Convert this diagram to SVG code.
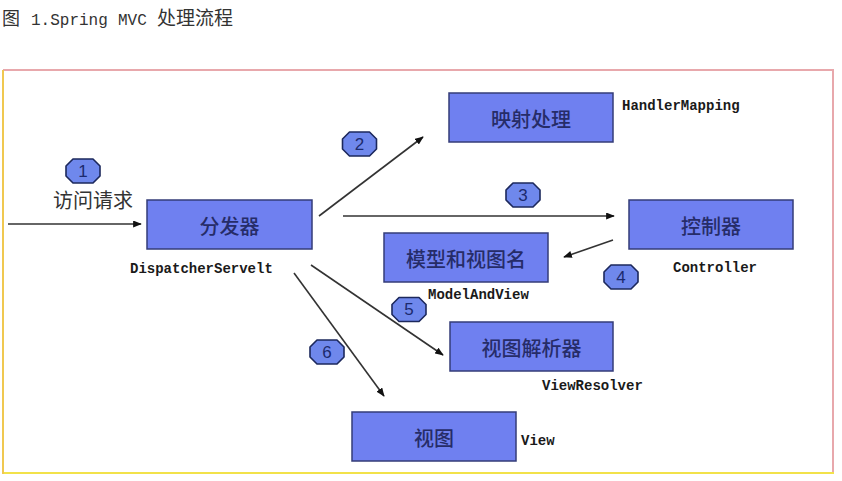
<svg xmlns="http://www.w3.org/2000/svg" xmlns:xlink="http://www.w3.org/1999/xlink" width="842" height="481" viewBox="0 0 842 481">
<style>
.box{fill:#6f80f0;stroke:#343c78;stroke-width:1.5}
.bt{font-family:"Noto Sans CJK SC","Noto Sans",sans-serif;font-size:20px;font-weight:500;fill:#262c68;text-anchor:middle;dominant-baseline:central}
.lbl{font-family:"Liberation Mono",monospace;font-size:14px;font-weight:bold;fill:#1a1a1a}
.badge{fill:#6f88ec;stroke:#1c285c;stroke-width:1.6;stroke-linejoin:round}
.num{font-family:"Liberation Sans","DejaVu Sans",sans-serif;font-size:17px;fill:#1c2a6e;text-anchor:middle;dominant-baseline:central}
.ln{stroke:#333;stroke-width:1.6;fill:none;marker-end:url(#ah)}
.cjk{font-family:"Noto Sans CJK SC",sans-serif}
</style>
<defs>
<marker id="ah" viewBox="0 0 10 8" refX="9" refY="4" markerWidth="9" markerHeight="7" markerUnits="userSpaceOnUse" orient="auto">
<path d="M0,0 L10,4 L0,8 z" fill="#111"/>
</marker>
<path id="bdg" class="badge" d="M-10,-12 L10,-12 L17,-5 L17,5 L10,12 L-10,12 L-17,5 L-17,-5 Z"/>
</defs>
<rect width="842" height="481" fill="#fff"/>
<text y="25" fill="#333" font-size="16">
<tspan x="2" class="cjk" font-size="18">图</tspan><tspan x="31" font-family="Liberation Mono,monospace">1.Spring</tspan><tspan x="118" font-family="Liberation Mono,monospace">MVC</tspan><tspan x="157" class="cjk" font-size="19">处理流程</tspan>
</text>
<g id="frame" stroke-width="2">
<line x1="3" y1="70" x2="834" y2="70" stroke="#e8a8ac"/>
<line x1="833" y1="70" x2="833" y2="474" stroke="#e8a8ac"/>
<line x1="3" y1="473" x2="834" y2="473" stroke="#f2e24a"/>
<line x1="3" y1="70" x2="3" y2="474" stroke="#f0c850"/>
</g>
<g id="connectors">
<line class="ln" x1="8" y1="224" x2="141" y2="224"/>
<line class="ln" x1="319" y1="216" x2="423" y2="137"/>
<line class="ln" x1="343" y1="216" x2="614" y2="216"/>
<line class="ln" x1="613" y1="240" x2="564" y2="257"/>
<line class="ln" x1="311" y1="265" x2="443" y2="355"/>
<line class="ln" x1="294" y1="273" x2="384" y2="396"/>
</g>
<g id="request">
<text x="53" y="208" class="cjk" font-size="20" fill="#333">访问请求</text>
</g>
<g id="dispatcher">
<rect class="box" x="147" y="200" width="165" height="49"/>
<text class="bt" x="229.5" y="225">分发器</text>
<text class="lbl" x="130" y="273">DispatcherServelt</text>
</g>
<g id="handlermapping">
<rect class="box" x="449" y="93" width="164" height="49"/>
<text class="bt" x="531" y="118">映射处理</text>
<text class="lbl" x="622" y="110">HandlerMapping</text>
</g>
<g id="controller">
<rect class="box" x="629" y="200" width="164" height="49"/>
<text class="bt" x="711" y="225">控制器</text>
<text class="lbl" x="673" y="272">Controller</text>
</g>
<g id="modelandview">
<rect class="box" x="384" y="233" width="164" height="49"/>
<text class="bt" x="466" y="258">模型和视图名</text>
<text class="lbl" x="428" y="299">ModelAndView</text>
</g>
<g id="viewresolver">
<rect class="box" x="450" y="322" width="163" height="49"/>
<text class="bt" x="531.5" y="347">视图解析器</text>
<text class="lbl" x="542" y="390">ViewResolver</text>
</g>
<g id="view">
<rect class="box" x="352" y="412" width="164" height="49"/>
<text class="bt" x="434" y="437">视图</text>
<text class="lbl" x="521" y="445">View</text>
</g>
<g id="step1"><use xlink:href="#bdg" x="83" y="171"/><text class="num" x="83" y="171">1</text></g>
<g id="step2"><use xlink:href="#bdg" x="359.5" y="144"/><text class="num" x="359.5" y="144">2</text></g>
<g id="step3"><use xlink:href="#bdg" x="523" y="195"/><text class="num" x="523" y="195">3</text></g>
<g id="step4"><use xlink:href="#bdg" x="621" y="277"/><text class="num" x="621" y="277">4</text></g>
<g id="step5"><use xlink:href="#bdg" x="409" y="309.5"/><text class="num" x="409" y="309.5">5</text></g>
<g id="step6"><use xlink:href="#bdg" x="327" y="352"/><text class="num" x="327" y="352">6</text></g>
</svg>
